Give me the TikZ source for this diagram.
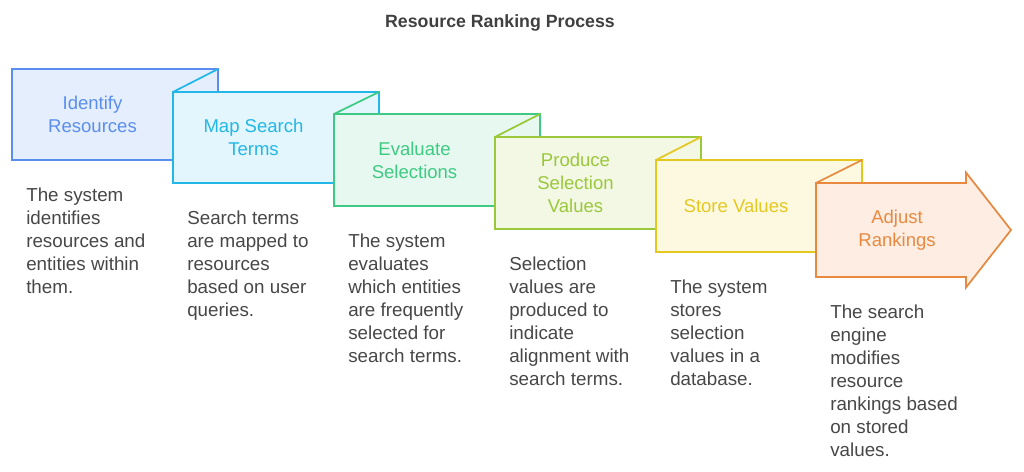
\documentclass[tikz,border=0pt]{standalone}
\usepackage{fontspec}
\setmainfont{Liberation Sans}
\usetikzlibrary{positioning}
\definecolor{blue}{HTML}{5A8EEE}
\definecolor{bluebg}{HTML}{E5EEFD}
\definecolor{cyan}{HTML}{22B7E6}
\definecolor{cyanbg}{HTML}{E3F6FD}
\definecolor{green}{HTML}{3FCA83}
\definecolor{greenbg}{HTML}{E6F8EF}
\definecolor{lime}{HTML}{9BC83A}
\definecolor{limebg}{HTML}{F2F8E4}
\definecolor{yellow}{HTML}{E5C81F}
\definecolor{yellowbg}{HTML}{FDF9E1}
\definecolor{orange}{HTML}{E8893F}
\definecolor{orangebg}{HTML}{FDEDE3}
\definecolor{ink}{HTML}{474747}
\begin{document}
\begin{tikzpicture}[x=0.75pt,y=-0.75pt,
  stage/.style={line width=1.3pt,draw=#1,fill=#1bg,line join=miter},
  fold/.style={line width=1.3pt,draw=#1,line cap=round},
  label/.style={text=#1,font=\fontsize{13.9}{17.25}\selectfont,align=center,inner sep=0pt},
  desc/.style={text=ink,font=\fontsize{14.1}{17.25}\selectfont,align=left,inner sep=0pt,below right=20.5pt and 10.5pt of #1}]
  \useasboundingbox (0,0) rectangle (1024,471);
  \node[font=\bfseries\fontsize{13.3}{16}\selectfont,text=ink!90!black] (title) at (500,23) {Resource Ranking Process};

  % stages, each one on top of the previous
  \draw[stage=blue] (12,69) rectangle ++(206,91);
  \draw[stage=cyan] (173,92) rectangle ++(206,91);
  \draw[fold=cyan] (173,92) -- (218,69);
  \draw[stage=green] (334,114) rectangle ++(206,92);
  \draw[fold=green] (334,114) -- (379,92);
  \draw[stage=lime] (495,137) rectangle ++(206,92);
  \draw[fold=lime] (495,137) -- (540,114);
  \draw[stage=yellow] (656,160) rectangle ++(206,92);
  \draw[fold=yellow] (656,160) -- (701,137);
  \draw[stage=orange] (816,183) -- (966,183) -- (966,172.5) -- (1011,230)
    -- (966,287.5) -- (966,277) -- (816,277) -- cycle;
  \draw[fold=orange] (816,183) -- (862,160);

  \node[label=blue] (idf) at (92.5,114.5) {Identify\\Resources};
  \node[label=cyan] (map) at (253.5,137.5) {Map Search\\Terms};
  \node[label=green] (evl) at (414.5,160) {Evaluate\\Selections};
  \node[label=lime] (prd) at (575.5,183) {Produce\\Selection\\Values};
  \node[label=yellow] (sto) at (736,206) {Store Values};
  \node[label=orange] (adj) at (897,230) {Adjust\\Rankings};

  \coordinate (c1) at (12,160);
  \coordinate (c2) at (173,183);
  \coordinate (c3) at (334,206);
  \coordinate (c4) at (495,229);
  \coordinate (c5) at (656,252);
  \coordinate (c6) at (816,277);
  \node[desc=c1] (idf-d) {The system\\identifies\\resources and\\entities within\\them.};
  \node[desc=c2] (map-d) {Search terms\\are mapped to\\resources\\based on user\\queries.};
  \node[desc=c3] (evl-d) {The system\\evaluates\\which entities\\are frequently\\selected for\\search terms.};
  \node[desc=c4] (prd-d) {Selection\\values are\\produced to\\indicate\\alignment with\\search terms.};
  \node[desc=c5] (sto-d) {The system\\stores\\selection\\values in a\\database.};
  \node[desc=c6] (adj-d) {The search\\engine\\modifies\\resource\\rankings based\\on stored\\values.};
\end{tikzpicture}
\end{document}
